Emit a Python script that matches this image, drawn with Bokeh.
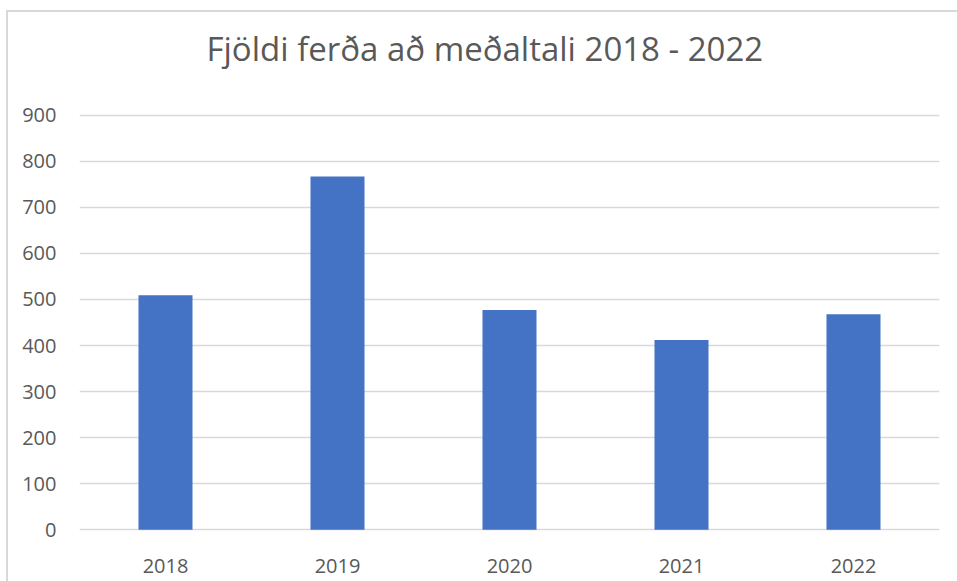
from bokeh.plotting import figure
from bokeh.models import FactorRange, Range1d, ColumnDataSource, FixedTicker, Title
from bokeh.embed import file_html
from bokeh.resources import INLINE

# Data
years = ["2018", "2019", "2020", "2021", "2022"]
trips = [509, 767, 477, 412, 468]
y_ticks = [0, 100, 200, 300, 400, 500, 600, 700, 800, 900]
title_text = "Fjöldi ferða að meðaltali 2018 - 2022"

source = ColumnDataSource(data=dict(year=years, trips=trips))

p = figure(
    x_range=FactorRange(*years),
    y_range=Range1d(-4, 904),
    width=951, height=571,
    output_backend="svg",
    toolbar_location=None,
    tools="",
    min_border_left=71, min_border_right=20,
    min_border_top=101, min_border_bottom=52,
)
p.margin = (10, 0, 0, 6)
p.styles = {"border-left": "2px solid #d9d9d9", "border-top": "2px solid #d9d9d9"}

p.vbar(x="year", top="trips", bottom=0, width=0.314, source=source,
       fill_color="#4472C4", line_color=None)

p.outline_line_color = None
p.background_fill_color = "white"
p.border_fill_color = "white"

# Title
p.title.text = title_text
p.title.align = "left"
p.title.offset = 127
p.title.vertical_align = "top"
p.title.text_font = "Open Sans"
p.title.text_font_size = "33px"
p.title.text_font_style = "normal"
p.title.text_color = "#595959"
p.title.standoff = 0

# spacing between title and plot area
p.add_layout(Title(text=" ", text_font_size="1px", standoff=38), "above")

# Grid
p.xgrid.grid_line_color = None
p.ygrid.grid_line_color = "#d9d9d9"
p.ygrid.grid_line_width = 1.5
p.ygrid.ticker = FixedTicker(ticks=y_ticks)

# Axes
p.yaxis.ticker = FixedTicker(ticks=y_ticks)
for ax in (p.xaxis[0], p.yaxis[0]):
    ax.axis_line_color = None
    ax.major_tick_line_color = None
    ax.minor_tick_line_color = None
    ax.major_tick_in = 0
    ax.major_tick_out = 0
    ax.major_label_text_font = "Open Sans"
    ax.major_label_text_font_size = "20px"
    ax.major_label_text_color = "#595959"
p.yaxis.major_label_standoff = 23
p.xaxis.major_label_standoff = 27

open("out.html", "w").write(file_html(p, INLINE))
